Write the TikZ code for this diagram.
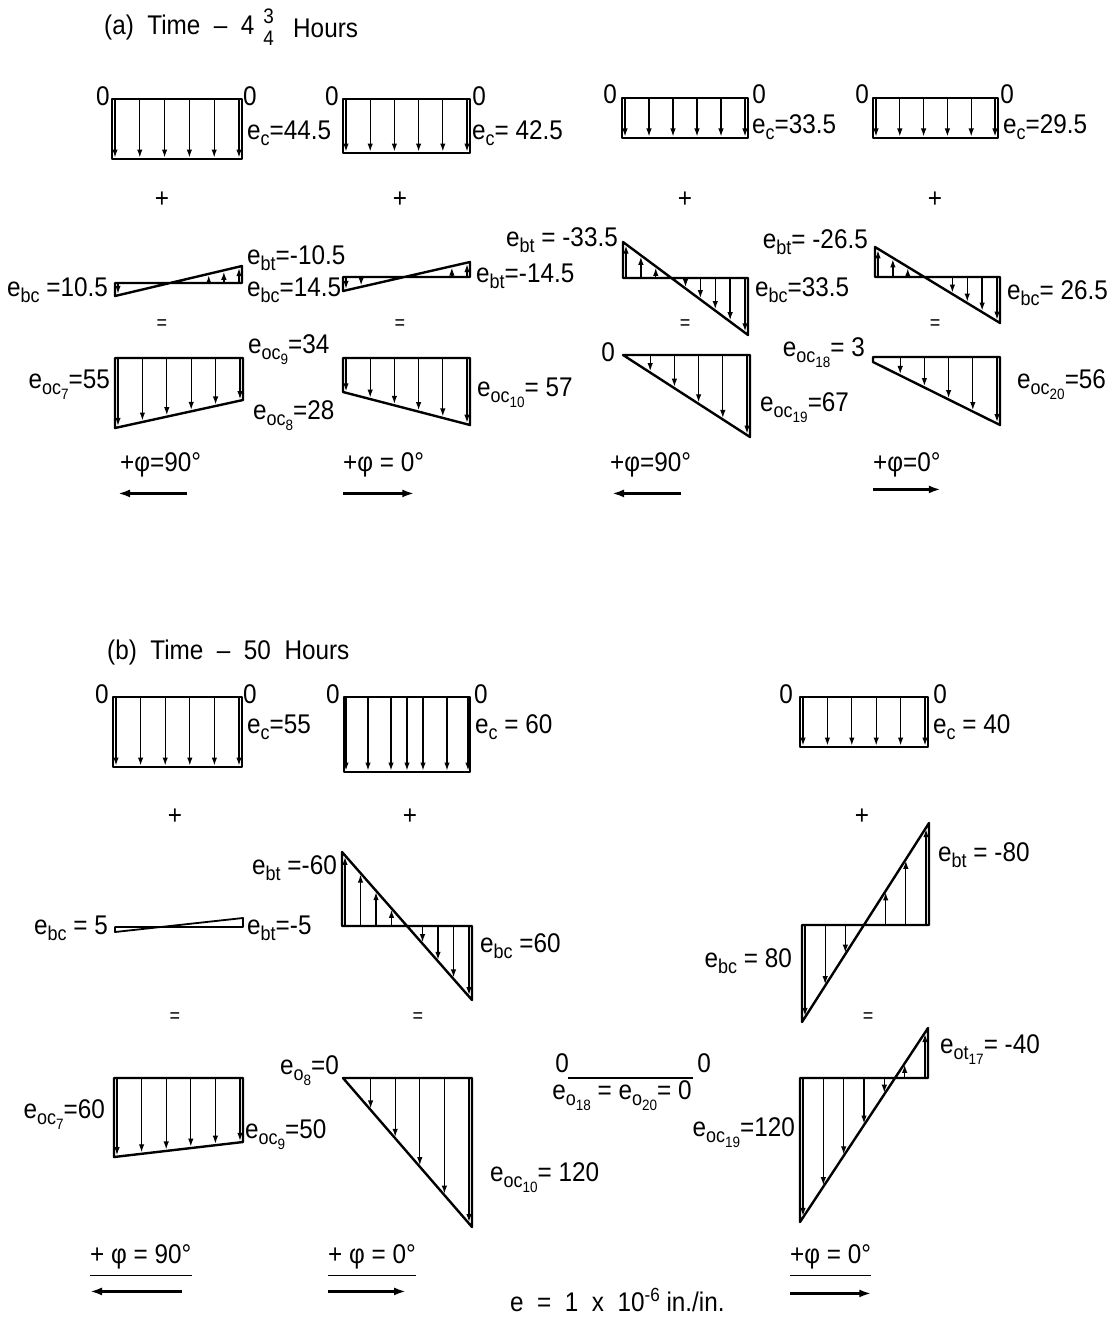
\documentclass[tikz,border=0pt]{standalone}
\usepackage{fontspec}
\setmainfont{Liberation Sans}[FakeStretch=0.9]
\usetikzlibrary{arrows.meta}
\newcommand\sbs[1]{\raisebox{-6pt}{\fontsize{20}{20}\selectfont #1}}
\newcommand\ssbs[1]{\raisebox{-5pt}{\fontsize{15}{15}\selectfont #1}}
\newcommand\distr[6]{%
  \draw[outline] (#1,#3) -- (#2,#3) -- (#2,#5) -- (#1,#4) -- cycle;
  \foreach \i in {0,...,#6}{%
    \pgfmathsetmacro\xx{#1+3+\i*(#2-#1-6)/#6}%
    \pgfmathsetmacro\yy{#4+(#5-#4)/(#2-#1)*(\xx-#1)}%
    \pgfmathtruncatemacro\ok{abs(\yy-#3)>9}%
    \ifnum\ok=1 \draw[force] (\xx,#3) -- (\xx,\yy);\fi
  }%
}
\begin{document}
\begin{tikzpicture}[x=1pt,y=-1pt,
  outline/.style={line width=2.4pt,line join=round},
  force/.style={line width=1.3pt,shorten >=1.5pt,-{Latex[length=8pt,width=5.5pt]}},
  bigarrow/.style={line width=2.6pt,-{Latex[length=12pt,width=8pt]}},
  lbl/.style={inner sep=0pt,font=\fontsize{27}{30}\selectfont},
  sml/.style={inner sep=0pt,font=\fontsize{20}{22}\selectfont}]
\useasboundingbox (0,0) rectangle (1116,1319);
\fill[white] (0,0) rectangle (1116,1319);

% ---------- (a) ----------
\node[lbl,anchor=west] (ta) at (104,28) {(a)\ \ Time\ \ --\ \ 4};
\node[sml,font=\fontsize{21}{22}\selectfont] (ta3) at ([xshift=14pt,yshift=12pt]ta.east) {3};
\node[sml,font=\fontsize{21}{22}\selectfont] (ta4) at ([xshift=14pt,yshift=-10pt]ta.east) {4};
\node[lbl,anchor=west] (tah) at (293,28) {Hours};

% axial
\distr{112}{242}{99}{159}{159}{5}
\distr{343}{470}{99}{153}{153}{5}
\distr{622}{748}{98}{138}{138}{5}
\distr{873}{998}{98}{138}{138}{5}
\node[lbl] (a1z1) at (103,96) {0};
\node[lbl] (a1z2) at (250,96) {0};
\node[lbl,anchor=west] (a1c) at (247,133) {e\sbs{c}=44.5};
\node[lbl] (a2z1) at (332,96) {0};
\node[lbl] (a2z2) at (479,96) {0};
\node[lbl,anchor=west] (a2c) at (472,133) {e\sbs{c}= 42.5};
\node[lbl] (a3z1) at (610,94) {0};
\node[lbl] (a3z2) at (759,94) {0};
\node[lbl,anchor=west] (a3c) at (752,127) {e\sbs{c}=33.5};
\node[lbl] (a4z1) at (862,94) {0};
\node[lbl] (a4z2) at (1007,94) {0};
\node[lbl,anchor=west] (a4c) at (1003,127) {e\sbs{c}=29.5};

\node[lbl] (pa1) at (162,200) {+};
\node[lbl] (pa2) at (400,200) {+};
\node[lbl] (pa3) at (685,200) {+};
\node[lbl] (pa4) at (935,200) {+};

% bending
\distr{115}{242}{283}{296}{266}{8}
\distr{343}{470}{277}{291}{262}{8}
\distr{623}{748}{278}{242}{335}{8}
\distr{875}{1000}{277}{247}{323}{8}
\node[lbl,anchor=east] (a1bc) at (108,290) {e\sbs{bc} =10.5};
\node[lbl,anchor=west] (a1bt) at (247,258) {e\sbs{bt}=-10.5};
\node[lbl,anchor=west] (a2bc) at (247,290) {e\sbs{bc}=14.5};
\node[lbl,anchor=west] (a2bt) at (476,276) {e\sbs{bt}=-14.5};
\node[lbl,anchor=east] (a3bt) at (618,240) {e\sbs{bt} = -33.5};
\node[lbl,anchor=west] (a3bc) at (755,290) {e\sbs{bc}=33.5};
\node[lbl,anchor=east] (a4bt) at (868,242) {e\sbs{bt}= -26.5};
\node[lbl,anchor=west] (a4bc) at (1007,293) {e\sbs{bc}= 26.5};

\node[sml] (ea1) at (162,325) {=};
\node[sml] (ea2) at (400,325) {=};
\node[sml] (ea3) at (685,325) {=};
\node[sml] (ea4) at (935,325) {=};

% results
\distr{115}{243}{358}{428}{400}{5}
\distr{343}{470}{358}{392}{425}{5}
\distr{623}{750}{355}{355}{437}{5}
\distr{873}{1000}{357}{362}{425}{5}
\node[lbl,anchor=east] (a1o7) at (110,385) {e\sbs{oc\ssbs{7}}=55};
\node[lbl,anchor=west] (a1o9) at (248,350) {e\sbs{oc\ssbs{9}}=34};
\node[lbl,anchor=west] (a1o8) at (253,416) {e\sbs{oc\ssbs{8}}=28};
\node[lbl,anchor=west] (a2o10) at (477,393) {e\sbs{oc\ssbs{10}}= 57};
\node[lbl] (a3z) at (608,352) {0};
\node[lbl,anchor=west] (a3o19) at (760,408) {e\sbs{oc\ssbs{19}}=67};
\node[lbl,anchor=east] (a4o18) at (865,353) {e\sbs{oc\ssbs{18}}= 3};
\node[lbl,anchor=west] (a4o20) at (1017,385) {e\sbs{oc\ssbs{20}}=56};

% phi
\node[lbl,anchor=west] (pha1) at (120,465) {+φ=90°};
\node[lbl,anchor=west] (pha2) at (343,465) {+φ = 0°};
\node[lbl,anchor=west] (pha3) at (610,465) {+φ=90°};
\node[lbl,anchor=west] (pha4) at (873,465) {+φ=0°};
\draw[bigarrow] ([xshift=-14pt,yshift=-16pt]pha1.south east) -- ([xshift=-2pt,yshift=-16pt]pha1.south west);
\draw[bigarrow] ([yshift=-16pt]pha2.south west) -- ([xshift=-10pt,yshift=-16pt]pha2.south east);
\draw[bigarrow] ([xshift=-10pt,yshift=-16pt]pha3.south east) -- ([xshift=2pt,yshift=-16pt]pha3.south west);
\draw[bigarrow] ([yshift=-12pt]pha4.south west) -- ([xshift=0pt,yshift=-12pt]pha4.south east);

% ---------- (b) ----------
\node[lbl,anchor=west] (tb) at (107,653) {(b)\ \ Time\ \ --\ \ 50\ \ Hours};

\distr{113}{242}{697}{767}{767}{5}
\draw[outline] (344,697) rectangle (470,772);
\foreach \xx in {346,368,391,407,423,447,468}
  \draw[force] (\xx,697) -- (\xx,772);
\distr{800}{928}{697}{747}{747}{5}
\node[lbl] (b1z1) at (102,694) {0};
\node[lbl] (b1z2) at (250,694) {0};
\node[lbl,anchor=west] (b1c) at (247,727) {e\sbs{c}=55};
\node[lbl] (b2z1) at (333,694) {0};
\node[lbl] (b2z2) at (481,694) {0};
\node[lbl,anchor=west] (b2c) at (475,727) {e\sbs{c} = 60};
\node[lbl] (b4z1) at (786,694) {0};
\node[lbl] (b4z2) at (940,694) {0};
\node[lbl,anchor=west] (b4c) at (933,727) {e\sbs{c} = 40};

\node[lbl] (pb1) at (175,817) {+};
\node[lbl] (pb2) at (410,817) {+};
\node[lbl] (pb4) at (862,817) {+};

\draw[outline,line width=1.8pt] (115,927) -- (243,927) -- (243,918) -- (115,932) -- cycle;
\distr{342}{472}{926}{852}{1000}{8}
\distr{802}{929}{925}{1022}{823}{6}
\node[lbl,anchor=east] (b1bc) at (108,928) {e\sbs{bc} = 5};
\node[lbl,anchor=west] (b1bt) at (247,928) {e\sbs{bt}=-5};
\node[lbl,anchor=east] (b2bt) at (337,868) {e\sbs{bt} =-60};
\node[lbl,anchor=west] (b2bc) at (480,946) {e\sbs{bc} =60};
\node[lbl,anchor=west] (b4bt) at (938,855) {e\sbs{bt} = -80};
\node[lbl,anchor=east] (b4bc) at (792,961) {e\sbs{bc} = 80};

\node[sml] (eb1) at (175,1018) {=};
\node[sml] (eb2) at (418,1018) {=};
\node[sml] (eb4) at (868,1018) {=};

\distr{114}{243}{1078}{1157}{1142}{5}
\distr{343}{472}{1078}{1078}{1227}{5}
\draw[outline,line width=1.8pt] (568,1078) -- (693,1078);
\distr{800}{928}{1078}{1222}{1028}{6}
\node[lbl,anchor=east] (b1o7) at (105,1115) {e\sbs{oc\ssbs{7}}=60};
\node[lbl,anchor=west] (b1o9) at (245,1135) {e\sbs{oc\ssbs{9}}=50};
\node[lbl,anchor=east] (b2o8) at (339,1071) {e\sbs{o\ssbs{8}}=0};
\node[lbl,anchor=west] (b2o10) at (490,1178) {e\sbs{oc\ssbs{10}}= 120};
\node[lbl] (b3z1) at (562,1063) {0};
\node[lbl] (b3z2) at (704,1063) {0};
\node[lbl] (b3o) at (622,1096) {e\sbs{o\ssbs{18}} = e\sbs{o\ssbs{20}}= 0};
\node[lbl,anchor=west] (b4o17) at (940,1050) {e\sbs{ot\ssbs{17}}= -40};
\node[lbl,anchor=east] (b4o19) at (795,1133) {e\sbs{oc\ssbs{19}}=120};

\node[lbl,anchor=west] (phb1) at (90,1257) {+ φ = 90°};
\node[lbl,anchor=west] (phb2) at (328,1257) {+ φ = 0°};
\node[lbl,anchor=west] (phb4) at (790,1257) {+φ = 0°};
\draw[line width=1.8pt] ([yshift=-6pt]phb1.south west) -- ([yshift=-6pt]phb1.south east);
\draw[line width=1.8pt] ([yshift=-6pt]phb2.south west) -- ([yshift=-6pt]phb2.south east);
\draw[line width=1.8pt] ([yshift=-6pt]phb4.south west) -- ([yshift=-6pt]phb4.south east);
\draw[bigarrow] ([xshift=-10pt,yshift=-22pt]phb1.south east) -- ([yshift=-22pt]phb1.south west);
\draw[bigarrow] ([yshift=-22pt]phb2.south west) -- ([xshift=-10pt,yshift=-22pt]phb2.south east);
\draw[bigarrow] ([yshift=-24pt]phb4.south west) -- ([yshift=-24pt]phb4.south east);

\node[lbl,anchor=west] (unit) at (510,1300) {e \ = \ 1 \ x \ 10\raisebox{10pt}{\fontsize{19}{19}\selectfont -6} in./in.};
\end{tikzpicture}
\end{document}
